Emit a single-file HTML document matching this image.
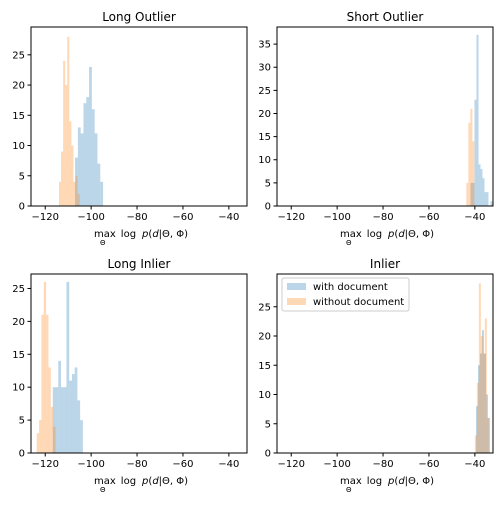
<!DOCTYPE html>
<html><head><meta charset="utf-8"><style>
body{margin:0;background:#fff;}
svg text{font-family:"DejaVu Sans","Liberation Sans",sans-serif;}
</style></head><body>
<svg id="c" width="504" height="504" xmlns="http://www.w3.org/2000/svg"></svg>
<script>
const titles=["Long Outlier","Short Outlier","Long Inlier","Inlier"];
const blueStart=[-107.0,-41.9,-116.7,-39.5];
const blueWidth=[1.22,0.87,1.19,0.87];
const blueCounts=[[8,13,12,17,18,23,16,12,7,4],[5,5,23,37,9,8,6,3,3,0,1],[10,10,14,10,10,26,11,12,13,8,5],[8,15,17,21,17,10,6]];
const orangeStart=[-114.0,-43.7,-123.7,-40.0];
const orangeWidth=[0.90,0.87,1.02,0.87];
const orangeCounts=[[4,9,24,20,28,14,10,4,5,2],[5,18,21,14],[3,5,21,26,21,13,7,4],[3,12,29,20,17,23,6]];
const yMax=[29.6,38.7,27.2,30.6];
const yTicks=[[0,5,10,15,20,25],[0,5,10,15,20,25,30,35],[0,5,10,15,20,25],[0,5,10,15,20,25]];
const xTicks=[-120,-100,-80,-60,-40];
const legendLabels=["with document","without document"];
const NS="http://www.w3.org/2000/svg";
const svg=document.getElementById('c');
function mk(t,a,p){const e=document.createElementNS(NS,t);for(const k in a)e.setAttribute(k,a[k]);(p||svg).appendChild(e);return e;}
const boxes=[[31,27],[277,27],[31,274],[277,274]];
const W=216,H=179,xmin=-126.2,xmax=-32.1;
for(let i=0;i<4;i++){
  const [L,T]=boxes[i];
  const g=mk('g',{});
  
  
  const X=v=>L+(v-xmin)/(xmax-xmin)*W;
  const Y=v=>T+H-v/yMax[i]*H;
  const draw=(start,w,counts,color,name)=>{
    counts.forEach((c,j)=>{if(!c)return;
      const r=mk('rect',{x:X(start+j*w),y:Y(c),width:X(start+(j+1)*w)-X(start+j*w),height:Y(0)-Y(c),fill:color,'fill-opacity':0.3},g);
      
      });
  };
  draw(blueStart[i],blueWidth[i],blueCounts[i],'#1f77b4','with-document');
  draw(orangeStart[i],orangeWidth[i],orangeCounts[i],'#ff7f0e','without-document');
  mk('rect',{x:L,y:T,width:W,height:H,fill:'none',stroke:'#000','stroke-width':1},g);
  xTicks.forEach(v=>{mk('line',{x1:X(v),x2:X(v),y1:T+H,y2:T+H+3.5,stroke:'#000'},g);
    const t=mk('text',{x:X(v),y:T+H+14,'text-anchor':'middle','font-size':10},g);t.textContent=v.toString().replace('-','−');
    });
  yTicks[i].forEach(v=>{mk('line',{x1:L-3.5,x2:L,y1:Y(v),y2:Y(v),stroke:'#000'},g);
    const t=mk('text',{x:L-6,y:Y(v)+3.5,'text-anchor':'end','font-size':10},g);t.textContent=v;
    });
  const tt=mk('text',{x:L+W/2,y:T-6,'text-anchor':'middle','font-size':12},g);tt.textContent=titles[i];
  
  const cx=L+W/2;
  const xl=mk('text',{x:cx-45,y:T+H+31,'font-size':10},g);
  xl.innerHTML='max<tspan dx="5">log</tspan><tspan dx="6" font-style="italic">p</tspan>(<tspan font-style="italic">d</tspan>|Θ, Φ)';
  
  const sb=mk('text',{x:cx-39,y:T+H+39,'font-size':7},g);sb.textContent='Θ';
  if(i===3){
    const lg=mk('g',{},g);
    
    mk('rect',{x:L+5,y:T+4,width:127,height:33,rx:2,fill:'#fff',stroke:'#ccc'},lg);
    ['#1f77b4','#ff7f0e'].forEach((c,k)=>{
      mk('rect',{x:L+10,y:T+9+k*15,width:19,height:7,fill:c,'fill-opacity':0.3},lg);
      const t=mk('text',{x:L+36,y:T+16+k*15,'font-size':10},lg);t.textContent=legendLabels[k];
      });
  }
}
</script>
</body></html>
